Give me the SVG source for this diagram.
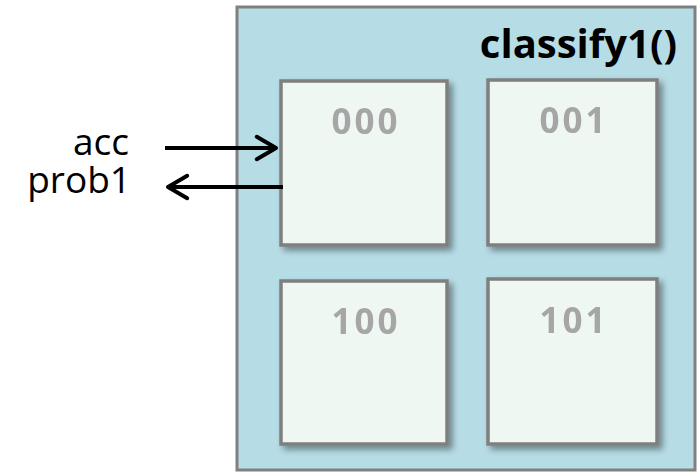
<svg xmlns="http://www.w3.org/2000/svg" width="698" height="473" viewBox="0 0 698 473">
<style>
.outer{fill:#b6dce6;stroke:#808080;stroke-width:3}
.box{fill:#eef7f2;stroke:#7f7f7f;stroke-width:3.5}
.lbl{font-family:"Open Sans","DejaVu Sans",sans-serif;font-weight:bold;font-size:35px;letter-spacing:3px;fill:#a6a6a6;text-anchor:middle}
.title{font-family:"Open Sans","DejaVu Sans",sans-serif;font-weight:bold;font-size:40px;fill:#000;text-anchor:end}
.port{font-family:"Open Sans","DejaVu Sans",sans-serif;font-size:37px;fill:#000;text-anchor:end}
.conn{stroke:#000;stroke-width:4;fill:none}
</style>
<defs>
<filter id="sh" x="-10%" y="-10%" width="130%" height="130%">
<feGaussianBlur in="SourceAlpha" stdDeviation="3"/>
<feOffset dx="4" dy="4" result="b"/>
<feComponentTransfer><feFuncA type="linear" slope="0.4"/></feComponentTransfer>
<feMerge><feMergeNode/><feMergeNode in="SourceGraphic"/></feMerge>
</filter>
<marker id="ah" viewBox="0 0 20 20" refX="16" refY="10" markerWidth="8" markerHeight="8" markerUnits="strokeWidth" orient="auto">
<path d="M4,3 L16,10 L4,17" fill="none" stroke="#000" stroke-width="2.5" stroke-linecap="round" stroke-linejoin="round"/>
</marker>
</defs>
<g id="classify1">
<rect class="outer" x="237" y="7" width="458" height="463"/>
<text class="title" x="677" y="58">classify1()</text>
</g>
<g id="n000" filter="url(#sh)">
<rect class="box" x="281" y="81" width="166" height="164"/>
<text class="lbl" x="366" y="134">000</text>
</g>
<g id="n001" filter="url(#sh)">
<rect class="box" x="488" y="80" width="169" height="165"/>
<text class="lbl" x="574" y="133">001</text>
</g>
<g id="n100" filter="url(#sh)">
<rect class="box" x="281" y="281" width="166" height="163"/>
<text class="lbl" x="366" y="334">100</text>
</g>
<g id="n101" filter="url(#sh)">
<rect class="box" x="488" y="279" width="169" height="165"/>
<text class="lbl" x="574" y="333">101</text>
</g>
<g id="ports">
<text class="port" x="129" y="155">acc</text>
<text class="port" x="131" y="193">prob1</text>
</g>
<g id="connectors">
<line class="conn" x1="165" y1="148" x2="276" y2="148" marker-end="url(#ah)"/>
<line class="conn" x1="283" y1="187" x2="168" y2="187" marker-end="url(#ah)"/>
</g>
</svg>
